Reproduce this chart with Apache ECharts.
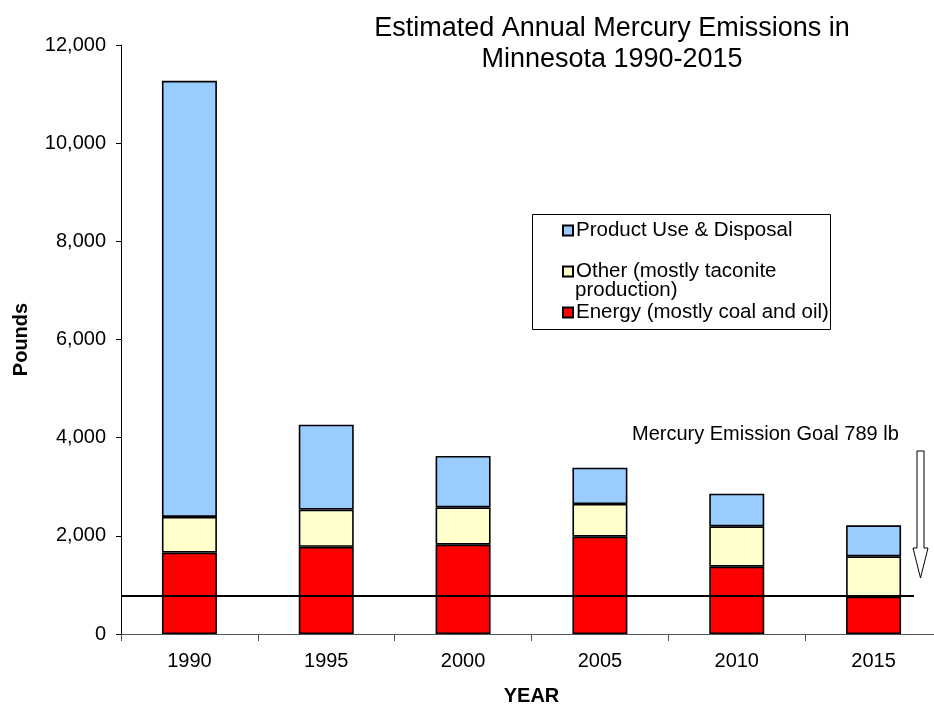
<!DOCTYPE html>
<html>
<head>
<meta charset="utf-8">
<script src="https://cdn.jsdelivr.net/npm/echarts@6/dist/echarts.min.js"></script>
<style>
html,body{margin:0;padding:0;background:#fff;}
#chart{width:934px;height:708px;}
</style>
</head>
<body>
<div id="chart"></div>
<script>
const years = ['1990', '1995', '2000', '2005', '2010', '2015'];
const energy = [1658, 1776, 1819, 1982, 1371, 760];
const other = [728, 758, 762, 667, 823, 823];
const product = [8885, 1729, 1045, 739, 664, 632];
const goal = 789;
const seriesNames = ['Product Use & Disposal', 'Other (mostly taconite production)', 'Energy (mostly coal and oil)'];
const legendLabels = {
  'Product Use & Disposal': 'Product Use & Disposal',
  'Other (mostly taconite production)': 'Other (mostly taconite',
  'Energy (mostly coal and oil)': 'Energy (mostly coal and oil)'
};
const titleText = 'Estimated Annual Mercury Emissions in\nMinnesota 1990-2015';
const goalText = 'Mercury Emission Goal 789 lb';

const FONT = '"Liberation Sans", Arial, sans-serif';
const chart = echarts.init(document.getElementById('chart'), null, {renderer: 'canvas'});

function barSeries(name, data, color) {
  return {
    name: name, type: 'bar', stack: 'total', data: data, barWidth: 55,
    itemStyle: {color: color, borderColor: '#000', borderWidth: 1.6},
    emphasis: {disabled: true}, animation: false
  };
}

const option = {
  animation: false,
  backgroundColor: '#fff',
  textStyle: {fontFamily: FONT},
  title: {
    text: titleText, left: 607, top: 8, textAlign: 'center',
    textStyle: {fontFamily: FONT, fontSize: 27, fontWeight: 'normal', color: '#000', lineHeight: 31}
  },
  grid: {left: 121, right: -8, top: 45, bottom: 74, containLabel: false, outerBoundsMode: 'none'},
  legend: {
    orient: 'vertical', left: 562, top: 220, itemWidth: 10, itemHeight: 10, itemGap: 20,
    icon: 'rect', padding: 0,
    data: seriesNames,
    formatter: function (n) { return legendLabels[n]; },
    textStyle: {fontFamily: FONT, fontSize: 20.5, color: '#000', lineHeight: 20, padding: [0, 0, 0, -2]},
    selectedMode: false
  },
  xAxis: {
    type: 'category', data: years, boundaryGap: true,
    name: 'YEAR', nameLocation: 'middle', nameGap: 52,
    nameTextStyle: {fontFamily: FONT, fontSize: 20, fontWeight: 'bold', color: '#000'},
    axisLine: {lineStyle: {color: '#555', width: 1}},
    axisTick: {show: true, length: 7, lineStyle: {color: '#555'}},
    axisLabel: {fontFamily: FONT, fontSize: 20, color: '#000', margin: 17}
  },
  yAxis: {
    type: 'value', min: 0, max: 12000, interval: 2000,
    name: 'Pounds', nameLocation: 'middle', nameGap: 90, nameRotate: 90,
    nameTextStyle: {fontFamily: FONT, fontSize: 20, fontWeight: 'bold', color: '#000'},
    axisLine: {show: true, lineStyle: {color: '#000', width: 1}},
    axisTick: {show: true, length: 5, lineStyle: {color: '#000'}},
    splitLine: {show: false},
    axisLabel: {
      fontFamily: FONT, fontSize: 20, color: '#000', margin: 15,
      formatter: function (v) { return v.toLocaleString('en-US'); }
    }
  },
  series: [
    barSeries(seriesNames[2], energy, '#FF0000'),
    barSeries(seriesNames[1], other, '#FFFFCC'),
    barSeries(seriesNames[0], product, '#99CCFF')
  ]
};
chart.setOption(option);

const gy = chart.convertToPixel({yAxisIndex: 0}, goal);
chart.setOption({
  series: [{
    name: seriesNames[2],
    markLine: {
      silent: true, symbol: 'none', animation: false,
      label: {show: false},
      lineStyle: {color: '#000', width: 2, type: 'solid'},
      data: [[{x: 121, y: gy}, {x: 914, y: gy}]]
    }
  }],
  graphic: [
    {type: 'rect', shape: {x: 532.5, y: 214.5, width: 298, height: 115},
     style: {fill: 'none', stroke: '#000', lineWidth: 1}, silent: true, z: 0},
    {type: 'text', left: 575, top: 280,
     style: {text: 'production)', fontFamily: FONT, fontSize: 20.5, fill: '#000'}, silent: true},
    {type: 'text', left: 632, top: 424,
     style: {text: goalText, fontFamily: FONT, fontSize: 20, fill: '#000'}, silent: true},
    {type: 'polygon', shape: {points: [[917, 451], [924, 451], [924, 548], [928, 548], [920.5, 578], [913, 548], [917, 548]]},
     style: {fill: '#fff', stroke: '#000', lineWidth: 1}, silent: true}
  ]
});
</script>
</body>
</html>
